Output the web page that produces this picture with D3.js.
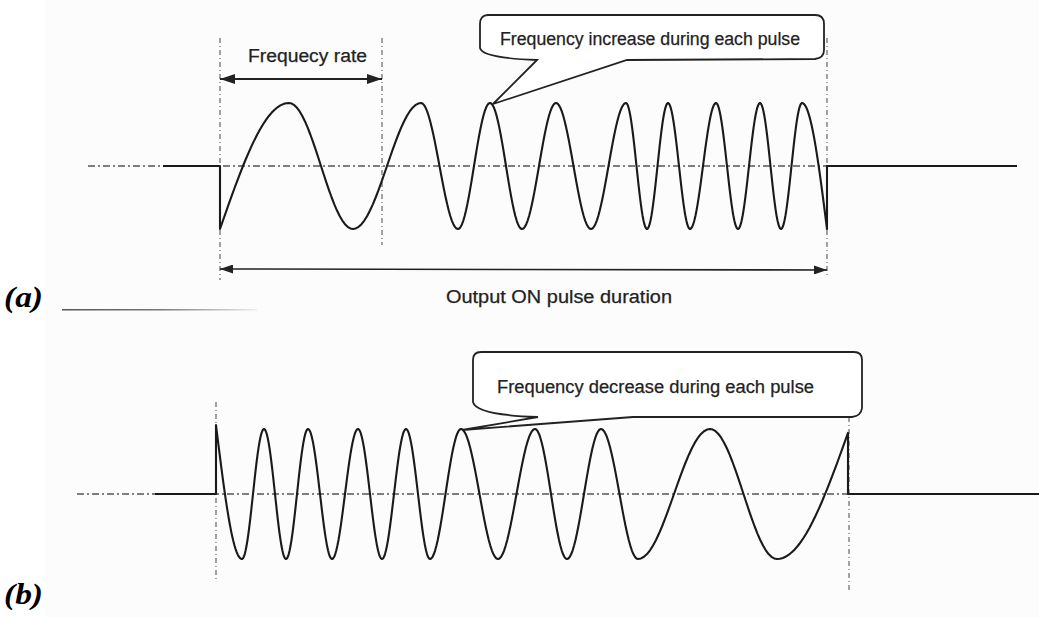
<!DOCTYPE html>
<html><head><meta charset="utf-8">
<script src="https://cdn.jsdelivr.net/npm/d3@7"></script>
<style>body{margin:0;background:#fff;overflow:hidden}</style>
</head><body>
<svg id="chart" width="1039" height="617"></svg>
<script>
// ---------- data (time units, signal level) ----------
const timeDomain = [0, 1039];
const levelDomain = [-1, 1];
// extrema of the output signal, panel (a): frequency increases
const pulseA_times  = [220, 289, 353, 421, 458, 490, 522, 556, 591, 626, 647, 668, 690, 716, 738, 760, 781, 802, 827];
const pulseA_levels = [-1, 1, -1, 1, -1, 1, -1, 1, -1, 1, -1, 1, -1, 1, -1, 1, -1, 1, -1];
// extrema of the output signal, panel (b): frequency decreases
const pulseB_times  = [216, 242, 264, 286, 308, 332, 358, 382, 406, 430, 461, 498, 535, 567, 601, 638, 710, 777, 848];
const pulseB_levels = [1.06, -1, 1, -1, 1, -1, 1, -1, 1, -1, 1, -1, 1, -1, 1, -1, 1, -1, 0.94];
// off-state signal before / after the pulse
const idleA = [163, 1017];
const idleB = [155, 1039];
// reference (dash-dot) centre lines
const centreA = [88, 827];
const centreB = [77, 849];
// guide marks
const guidesA = [220, 382, 827];
const guidesB = [216, 849];
const rateSpan = [220, 382];
const durationSpan = [220, 827];
const panelLabels = ["(a)", "(b)"];
const calloutTexts = ["Frequency increase during each pulse", "Frequency decrease during each pulse"];
const annotationTexts = ["Frequecy rate", "Output ON pulse duration"];

// ---------- drawing ----------
const svg = d3.select("#chart");
const W = 1039, H = 617;
const x = d3.scaleLinear().domain(timeDomain).range([0, W]);
const yA = d3.scaleLinear().domain(levelDomain).range([229, 103]);
const yB = d3.scaleLinear().domain(levelDomain).range([559, 429]);

svg.append("rect").attr("x", 45).attr("y", 0).attr("width", W - 45).attr("height", H).attr("fill", "#fcfcfc");

const defs = svg.append("defs");
defs.append("marker").attr("id", "arr").attr("viewBox", "0 0 15 10")
  .attr("refX", 15).attr("refY", 5).attr("markerWidth", 15).attr("markerHeight", 10)
  .attr("markerUnits", "userSpaceOnUse").attr("orient", "auto-start-reverse")
  .append("path").attr("d", "M0,0 L15,5 L0,10 Z").attr("fill", "#222");
defs.append("marker").attr("id", "arr2").attr("viewBox", "0 0 13 9")
  .attr("refX", 13).attr("refY", 4.5).attr("markerWidth", 13).attr("markerHeight", 9)
  .attr("markerUnits", "userSpaceOnUse").attr("orient", "auto-start-reverse")
  .append("path").attr("d", "M0,0 L13,4.5 L0,9 Z").attr("fill", "#222");
const grad = defs.append("linearGradient").attr("id", "fade");
grad.append("stop").attr("offset", "0%").attr("stop-color", "#555");
grad.append("stop").attr("offset", "50%").attr("stop-color", "#777");
grad.append("stop").attr("offset", "100%").attr("stop-color", "#eee");

const dashDot = "7,3,2,3";
const guideDash = "5,3,1,3";

function wave(times, levels, idle) {
  const pts = [[idle[0], 0], [times[0], 0], [times[0], levels[0]]];
  const last = times.length - 2;
  for (let i = 0; i <= last; i++) {
    const t0 = times[i], t1 = times[i + 1], v0 = levels[i], v1 = levels[i + 1];
    const n = 24;
    for (let k = 1; k <= n; k++) {
      const u = k / n;
      let f;
      if (i === 0) f = Math.sin(Math.PI / 2 * u);            // steep start right after the edge
      else if (i === last) f = 1 - Math.cos(Math.PI / 2 * u); // steep finish into the edge
      else f = (1 - Math.cos(Math.PI * u)) / 2;
      pts.push([t0 + (t1 - t0) * u, v0 + (v1 - v0) * f]);
    }
  }
  const tEnd = times[times.length - 1];
  pts.push([tEnd, 0], [idle[1], 0]);
  return pts;
}

function panel(y, times, levels, idle, centre, guides, guideExt) {
  const g = svg.append("g");
  g.append("line").attr("x1", x(centre[0])).attr("x2", x(centre[1]))
    .attr("y1", y(0)).attr("y2", y(0))
    .attr("stroke", "#555").attr("stroke-width", 1.3).attr("stroke-dasharray", dashDot);
  guides.forEach((t, i) => {
    g.append("line").attr("x1", x(t)).attr("x2", x(t))
      .attr("y1", guideExt[i][0]).attr("y2", guideExt[i][1])
      .attr("stroke", "#666").attr("stroke-width", 1.2).attr("stroke-dasharray", guideDash);
  });
  const line = d3.line().x(d => x(d[0])).y(d => y(d[1]));
  g.append("path").attr("d", line(wave(times, levels, idle)))
    .attr("fill", "none").attr("stroke", "#1a1a1a").attr("stroke-width", 2.1)
    .attr("stroke-linejoin", "round");
  return g;
}

panel(yA, pulseA_times, pulseA_levels, idleA, centreA, guidesA, [[38, 280], [38, 245], [38, 278]]);
panel(yB, pulseB_times, pulseB_levels, idleB, centreB, guidesB, [[402, 580], [417, 590]]);

const font = "'Liberation Sans', Arial, Helvetica, sans-serif";
function label(xp, yp, len, txt) {
  svg.append("text").attr("x", xp).attr("y", yp).attr("font-family", font).attr("font-size", 18)
    .attr("fill", "#222").attr("stroke", "#222").attr("stroke-width", 0.25)
    .attr("textLength", len).attr("lengthAdjust", "spacingAndGlyphs").text(txt);
}

// frequency rate arrow
svg.append("line").attr("x1", x(rateSpan[0])).attr("x2", x(rateSpan[1])).attr("y1", 79).attr("y2", 79)
  .attr("stroke", "#222").attr("stroke-width", 2.2)
  .attr("marker-start", "url(#arr)").attr("marker-end", "url(#arr)");
label(248, 62, 119, annotationTexts[0]);

// output ON duration arrow
svg.append("line").attr("x1", x(durationSpan[0])).attr("x2", x(durationSpan[1])).attr("y1", 269).attr("y2", 270)
  .attr("stroke", "#222").attr("stroke-width", 1.6)
  .attr("marker-start", "url(#arr2)").attr("marker-end", "url(#arr2)");
label(446, 303, 226, annotationTexts[1]);

// callout (a)
const tipA = [x(pulseA_times[5]) + 3, yA(1) + 1];
svg.append("path").attr("d",
  `M488,15 L815,15 Q824,15 824,24 L824,50 Q824,58 815,59 L627,60 L${tipA[0]},${tipA[1]} L537,60 Q482,58 480,48 L480,24 Q480,15 488,15 Z`)
  .attr("fill", "#fff").attr("stroke", "#222").attr("stroke-width", 1.8).attr("stroke-linejoin", "miter");
label(500, 45, 300, calloutTexts[0]);

// callout (b)
const tipB = [x(pulseB_times[10]) + 1, yB(1) + 1];
svg.append("path").attr("d",
  `M481,352 L854,352 Q862,352 862,360 L862,408 Q861,416 852,417 L633,417 L${tipB[0]},${tipB[1]} L538,417 Q476,415 473,402 L473,360 Q473,352 481,352 Z`)
  .attr("fill", "#fff").attr("stroke", "#222").attr("stroke-width", 1.8).attr("stroke-linejoin", "miter");
label(497, 393, 317, calloutTexts[1]);

// scan rule under (a)
svg.append("rect").attr("x", 62).attr("y", 309).attr("width", 195).attr("height", 1.5).attr("fill", "url(#fade)");

// panel labels
const serif = "'Liberation Serif', 'Times New Roman', serif";
[[4, 307], [4, 604]].forEach((p, i) => {
  svg.append("text").attr("x", p[0]).attr("y", p[1]).attr("font-family", serif)
    .attr("font-size", 30).attr("font-weight", "bold").attr("font-style", "italic")
    .attr("fill", "#000").attr("textLength", 39).attr("lengthAdjust", "spacingAndGlyphs")
    .text(panelLabels[i]);
});
</script>
</body></html>
